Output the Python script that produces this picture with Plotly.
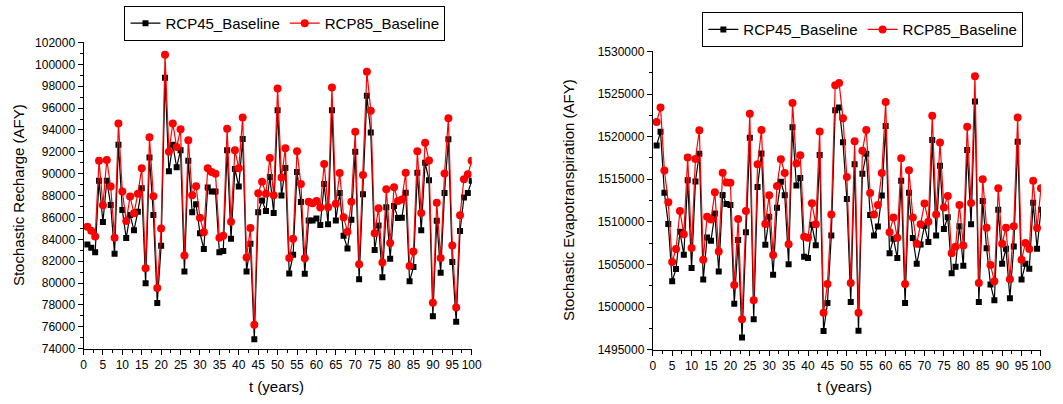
import plotly.graph_objects as go

W, H = 1063, 404

t = list(range(1, 101))

recharge_rcp45 = [
    83527, 83232, 82821, 89352, 85586, 89352, 87145, 82674, 92647, 86675,
    84116, 86233, 84821, 86527, 88675, 79996, 91470, 86233, 78172, 83409,
    98766, 90235, 92647, 90588, 92147, 81055, 91176, 86468, 87204, 84556,
    83115, 88734, 88381, 88381, 82821, 82939, 92147, 84057, 90441, 88822,
    93177, 81055, 83586, 74877, 86468, 87557, 86586, 89705, 86410, 95795,
    87998, 90529, 80879, 82585, 90146, 87410, 80849, 85733, 85733, 85910,
    85321, 89058, 85380, 95795, 85733, 88234, 84321, 83174, 85792, 92000,
    80349, 88116, 97119, 93765, 83027, 85262, 80526, 86940, 82232, 87057,
    85940, 85969, 88264, 80173, 81467, 90087, 84821, 91000, 89411, 76965,
    85704, 80938, 88234, 93147, 81938, 76465, 84762, 87822, 88234, 89352,
]
recharge_rcp85 = [
    85145, 84792, 84262, 91176, 87116, 91264, 88822, 84145, 94589, 88381,
    85675, 87910, 86380, 88175, 90499, 81350, 93324, 87940, 79555, 84998,
    100885, 92000, 94589, 92441, 94059, 82526, 93059, 88028, 88852, 85969,
    84645, 90499, 90146, 89999, 84145, 84321, 94118, 85616, 92147, 90499,
    95148, 82350, 85028, 76201, 88205, 89264, 88175, 91441, 88028, 97796,
    89646, 92323, 82291, 84056, 92058, 89058, 82262, 87440, 87293, 87499,
    86910, 90882, 86940, 97884, 87263, 90058, 86028, 84704, 87440, 93824,
    81732, 89881, 99325, 95765, 84557, 86851, 81879, 88587, 83674, 88764,
    87499, 87646, 90087, 81556, 82880, 92058, 86410, 92823, 91205, 78201,
    87351, 82291, 90029, 95059, 83438, 77760, 86204, 89499, 89940, 91176,
]

et_rcp45 = [
    1518974, 1520560, 1513423, 1509761, 1503039, 1504474, 1508854, 1506136, 1514896, 1504588,
    1514745, 1517992, 1503228, 1508175, 1507797, 1510969, 1504172, 1513159, 1512102, 1511988,
    1500396, 1507873, 1496431, 1508779, 1519880, 1498584, 1514103, 1518030, 1507306, 1510591,
    1503795, 1511649, 1514707, 1513121, 1505041, 1521089, 1514254, 1515160, 1505909, 1505758,
    1509647, 1507268, 1517841, 1497187, 1500472, 1508401, 1523090, 1523430, 1519352, 1512668,
    1500585, 1516746, 1497224, 1515651, 1517992, 1510818, 1508401, 1509459, 1513084, 1521240,
    1506324, 1508024, 1505758, 1514820, 1500472, 1513423, 1508099, 1505078, 1507344, 1509534,
    1507646, 1519616, 1508401, 1516595, 1509156, 1510554, 1503983, 1504739, 1509496, 1504852,
    1518445, 1509723, 1524109, 1500585, 1512442, 1506890, 1502662, 1500812, 1511422, 1505078,
    1506853, 1501038, 1507117, 1519400, 1503228, 1505078, 1504512, 1512253, 1506853, 1511422,
]
et_rcp85 = [
    1521731, 1523430, 1516029, 1512291, 1505305, 1506815, 1511271, 1508552, 1517539, 1506929,
    1517388, 1520749, 1505569, 1510591, 1510289, 1513461, 1506513, 1515764, 1514632, 1514594,
    1502586, 1510327, 1498584, 1511271, 1522675, 1500812, 1516746, 1520787, 1509761, 1513121,
    1506098, 1514216, 1517350, 1515727, 1507382, 1523958, 1516860, 1517804, 1508250, 1508137,
    1512177, 1509723, 1520598, 1499339, 1502700, 1510856, 1526035, 1526300, 1522146, 1515274,
    1502813, 1519465, 1499339, 1518332, 1520787, 1513386, 1510856, 1511988, 1515727, 1524072,
    1508779, 1510516, 1508137, 1517464, 1502700, 1516067, 1510516, 1507420, 1509723, 1512140,
    1510025, 1522448, 1510856, 1519314, 1511686, 1513046, 1506324, 1507080, 1511988, 1507231,
    1521164, 1512215, 1527092, 1502813, 1515009, 1509308, 1504927, 1503039, 1513952, 1507420,
    1509308, 1503266, 1509496, 1522259, 1505569, 1507533, 1506815, 1514820, 1509270, 1513952,
]

series_names = ["RCP45_Baseline", "RCP85_Baseline"]
left_title = "Stochastic Recharge (AFY)"
right_title = "Stochastic Evapotranspiration (AFY)"
x_title = "t (years)"

FONT = "Arial, Liberation Sans, sans-serif"

fig = go.Figure()

def add_pair(y45, y85, xa, ya, legend):
    fig.add_trace(go.Scatter(
        x=t, y=y45, name=series_names[0], mode="lines+markers",
        line=dict(color="black", width=1.2),
        marker=dict(symbol="square", size=6, color="black"),
        xaxis=xa, yaxis=ya, legend=legend))
    fig.add_trace(go.Scatter(
        x=t, y=y85, name=series_names[1], mode="lines+markers",
        line=dict(color="#ff0000", width=1.2),
        marker=dict(symbol="circle", size=8, color="#ff0000"),
        xaxis=xa, yaxis=ya, legend=legend))

add_pair(recharge_rcp45, recharge_rcp85, "x", "y", "legend")
add_pair(et_rcp45, et_rcp85, "x2", "y2", "legend2")

def px_x(p):
    return p / W

def px_y(p):
    return (H - p) / H

axis_common = dict(
    showline=True, linecolor="black", linewidth=1,
    ticks="outside", ticklen=5, tickwidth=1, tickcolor="black",
    showgrid=False, zeroline=False,
    tickfont=dict(family=FONT, size=12, color="black"),
)

legend_common = dict(
    orientation="h", xanchor="left", yanchor="middle",
    bordercolor="black", borderwidth=1, bgcolor="white",
    font=dict(family=FONT, size=15, color="black"), itemwidth=30,
    tracegroupgap=0,
)

fig.update_layout(
    width=W, height=H,
    margin=dict(l=0, r=0, t=0, b=0),
    paper_bgcolor="white", plot_bgcolor="white",
    font=dict(family=FONT, size=12, color="black"),
    xaxis=dict(domain=[px_x(81.5), px_x(474.5)], range=[0, 100], dtick=5, tick0=0,
               anchor="y",
               minor=dict(dtick=2.5, ticklen=3, tickcolor="black", ticks="outside"),
               **axis_common),
    yaxis=dict(domain=[px_y(354), px_y(36.7)], range=[74000, 102000], dtick=2000,
               tickformat="d", anchor="x",
               minor=dict(dtick=1000, ticklen=3, tickcolor="black", ticks="outside"),
               **axis_common),
    xaxis2=dict(domain=[px_x(657.8), px_x(1050.8)], range=[0, 100], dtick=5, tick0=0,
                anchor="y2",
                minor=dict(dtick=2.5, ticklen=3, tickcolor="black", ticks="outside"),
                **axis_common),
    yaxis2=dict(domain=[px_y(355), px_y(46)], range=[1495000, 1530000], dtick=5000,
                tickformat="d", anchor="x2",
                minor=dict(dtick=2500, ticklen=3, tickcolor="black", ticks="outside"),
                **axis_common),
    legend=dict(x=px_x(123), y=px_y(17), **legend_common),
    legend2=dict(x=px_x(708), y=px_y(23.5), **legend_common),
    showlegend=True,
)

ann_font = dict(family=FONT, size=15, color="black")
fig.add_annotation(text=x_title, x=px_x(277), y=px_y(393), xref="paper", yref="paper",
                   showarrow=False, xanchor="center", yanchor="middle", font=ann_font)
fig.add_annotation(text=x_title, x=px_x(852), y=px_y(393), xref="paper", yref="paper",
                   showarrow=False, xanchor="center", yanchor="middle", font=ann_font)
fig.add_annotation(text=left_title, x=px_x(15), y=px_y(195), xref="paper", yref="paper",
                   showarrow=False, xanchor="center", yanchor="middle", textangle=-90,
                   font=ann_font)
fig.add_annotation(text=right_title, x=px_x(572), y=px_y(200), xref="paper", yref="paper",
                   showarrow=False, xanchor="center", yanchor="middle", textangle=-90,
                   font=ann_font)

fig.write_html("out.html")
